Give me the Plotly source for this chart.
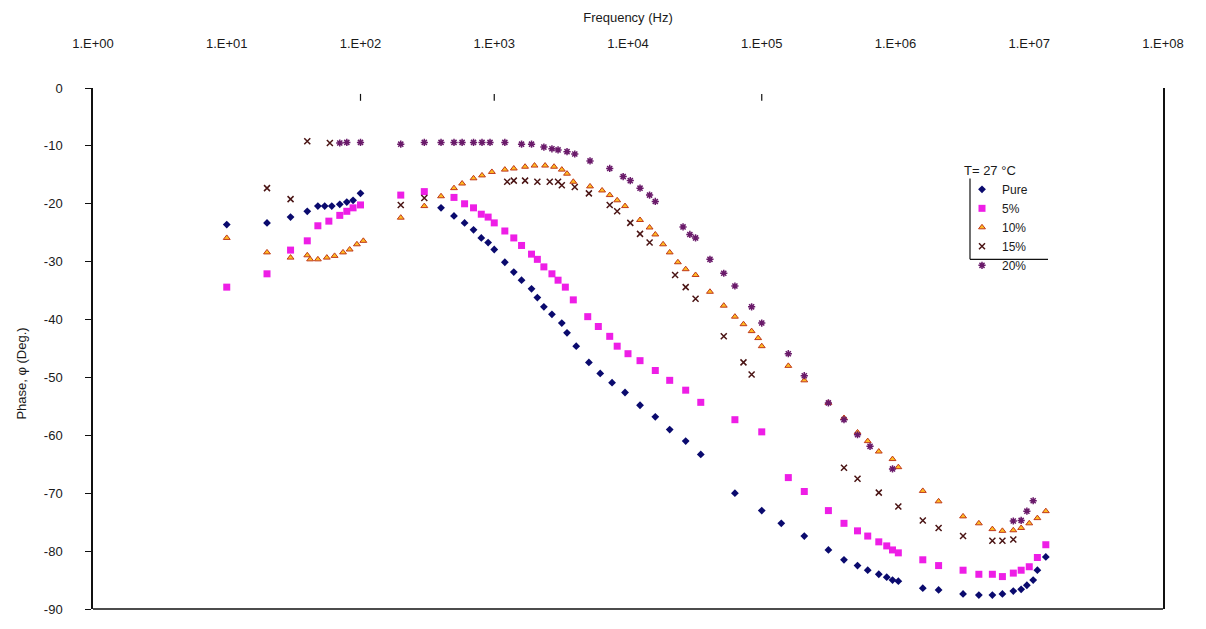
import plotly.graph_objects as go

# Phase vs frequency at T = 27 °C for five compositions
pure_f = [10, 20, 30, 40, 48, 54, 61, 70, 79, 88, 100,
          400, 500, 600, 700, 800, 900, 1000, 1200, 1400, 1600, 1900, 2100, 2350, 2700,
          3200, 3500, 4100, 5100, 6200, 7600, 9500, 12300, 16000, 20500, 27000, 35000,
          63000, 100000, 140000, 208000, 315000, 412000, 520000, 620000, 750000, 860000, 950000,
          1.05e6, 1.6e6, 2.1e6, 3.2e6, 4.2e6, 5.3e6, 6.3e6, 7.6e6, 8.7e6, 9.6e6, 1.07e7,
          1.15e7, 1.33e7]
pure_p = [-23.6, -23.3, -22.3, -21.3, -20.4, -20.4, -20.4, -20.1, -19.7, -19.4, -18.2,
          -20.7, -22.1, -23.3, -24.5, -25.9, -26.7, -27.9, -30.1, -31.8, -33.2, -34.7, -36.2,
          -37.8, -39.1, -40.6, -42.3, -44.6, -47.4, -49.3, -50.9, -52.6, -54.8, -56.8, -59.0,
          -61.0, -63.3, -70.0, -73.0, -75.2, -77.4, -79.8, -81.5, -82.5, -83.3, -84.0, -84.5,
          -85.0, -85.2, -86.4, -86.7, -87.4, -87.6, -87.6, -87.4, -86.9, -86.6, -85.9, -85.0,
          -83.3, -81.0]

p5_f = [10, 20, 30, 40, 48, 58, 70, 79, 88, 100, 200, 300, 500, 600, 700, 800, 900, 1000,
        1200, 1400, 1600, 1900, 2100, 2350, 2700, 3000, 3400, 3900, 5000, 6000, 7300, 8300,
        10000, 12300, 16000, 20500, 27000, 35000, 63000, 100000, 158000, 208000, 315000,
        412000, 520000, 620000, 750000, 860000, 950000, 1.05e6, 1.6e6, 2.1e6, 3.2e6, 4.2e6,
        5.3e6, 6.3e6, 7.6e6, 8.7e6, 1.0e7, 1.15e7, 1.33e7]
p5_p = [-34.4, -32.1, -28.0, -26.4, -23.8, -23.0, -22.0, -21.3, -20.7, -20.2, -18.5, -17.9,
        -18.9, -20.0, -20.7, -21.8, -22.3, -23.3, -24.7, -25.9, -27.2, -28.7, -29.6, -30.9,
        -32.1, -33.2, -34.4, -36.6, -39.5, -41.2, -42.9, -44.6, -45.9, -47.1, -48.8, -50.5,
        -52.2, -54.3, -57.3, -59.4, -67.3, -69.7, -73.0, -75.2, -76.5, -77.4, -78.4, -79.1,
        -79.8, -80.3, -81.5, -82.5, -83.3, -84.0, -84.0, -84.4, -83.8, -83.3, -82.7, -81.1,
        -78.9]

p10_f = [10, 20, 30, 40, 42, 48, 56, 64, 74, 83, 94, 105, 200, 300, 400, 500, 575, 700,
         810, 960, 1200, 1400, 1700, 2000, 2400, 2800, 3200, 3500, 3900, 5200, 6400, 7300,
         8300, 9500, 12300, 14500, 16000, 18300, 20500, 23600, 27000, 32000, 41000, 52000,
         63000, 73000, 84000, 94000, 100000, 158000, 208000, 315000, 412000, 520000, 620000,
         750000, 950000, 1.05e6, 1.6e6, 2.1e6, 3.2e6, 4.2e6, 5.3e6, 6.3e6, 7.6e6, 8.7e6,
         1.0e7, 1.15e7, 1.33e7]
p10_p = [-25.9, -28.4, -29.3, -28.9, -29.6, -29.6, -29.3, -29.0, -28.4, -27.9, -27.0, -26.4,
         -22.4, -20.4, -18.7, -17.3, -16.5, -15.6, -15.1, -14.5, -14.1, -13.9, -13.6, -13.4,
         -13.4, -13.6, -14.1, -14.8, -16.2, -17.0, -17.7, -18.5, -19.4, -20.4, -22.8, -24.1,
         -25.3, -27.0, -28.4, -30.1, -31.3, -32.3, -35.2, -37.6, -39.5, -40.8, -42.0, -43.2,
         -44.6, -48.0, -50.5, -54.4, -57.0, -59.5, -61.0, -62.8, -64.1, -65.5, -69.6, -71.4,
         -74.0, -75.2, -76.2, -76.5, -76.4, -76.0, -75.2, -74.3, -73.1]

p15_f = [20, 30, 40, 59, 200, 300, 1250, 1400, 1700, 2100, 2600, 3000, 3200, 4000, 5100,
         7300, 8300, 10400, 12300, 14500, 22500, 27000, 32000, 52000, 73000, 84000, 412000,
         520000, 750000, 1.05e6, 1.6e6, 2.1e6, 3.2e6, 5.3e6, 6.3e6, 7.6e6]
p15_p = [-17.3, -19.2, -9.2, -9.5, -20.2, -19.0, -16.2, -16.0, -16.0, -16.2, -16.2, -16.2,
         -16.8, -17.1, -18.2, -20.2, -21.3, -23.3, -25.2, -26.7, -32.3, -34.4, -36.4, -42.9,
         -47.4, -49.5, -65.6, -67.5, -69.9, -72.3, -74.7, -76.0, -77.4, -78.2, -78.2, -78.0]

p20_f = [70, 79, 100, 200, 300, 400, 500, 575, 700, 810, 930, 1200, 1600, 1900, 2350, 2700,
         3000, 3500, 4000, 5200, 7300, 9200, 10400, 12300, 14500, 16000, 25800, 29000, 32000,
         41000, 52000, 63000, 84000, 100000, 158000, 208000, 315000, 412000, 520000, 645000,
         950000, 7.6e6, 8.7e6, 9.6e6, 1.07e7]
p20_p = [-9.5, -9.4, -9.4, -9.7, -9.4, -9.4, -9.4, -9.4, -9.4, -9.4, -9.4, -9.4, -9.7, -9.7,
         -10.2, -10.5, -10.7, -11.0, -11.4, -12.6, -13.9, -15.3, -16.0, -17.3, -18.5, -19.6,
         -24.0, -25.3, -25.9, -29.6, -32.0, -34.2, -37.8, -40.6, -45.9, -49.7, -54.4, -57.3,
         -59.9, -61.9, -65.8, -74.8, -74.7, -73.1, -71.3]

x_ticks = [1, 10, 100, 1e3, 1e4, 1e5, 1e6, 1e7, 1e8]
x_tick_text = ["1.E+00", "1.E+01", "1.E+02", "1.E+03", "1.E+04",
               "1.E+05", "1.E+06", "1.E+07", "1.E+08"]
y_ticks = [0, -10, -20, -30, -40, -50, -60, -70, -80, -90]
y_tick_text = ["0", "-10", "-20", "-30", "-40", "-50", "-60", "-70", "-80", "-90"]

FONT = "Liberation Sans, Arial, sans-serif"
TXT = "#1a1a1a"
FS = 13

fig = go.Figure()
fig.add_trace(go.Scatter(x=pure_f, y=pure_p, mode="markers", name="Pure",
                         marker=dict(symbol="diamond", size=6, color="#0a0a6e")))
fig.add_trace(go.Scatter(x=p5_f, y=p5_p, mode="markers", name="5%",
                         marker=dict(symbol="square", size=7, color="#ee1ee6")))
fig.add_trace(go.Scatter(x=p10_f, y=p10_p, mode="markers", name="10%",
                         marker=dict(symbol="triangle-up", size=6, color="#ffbb22",
                                     line=dict(color="#c0391b", width=1))))
fig.add_trace(go.Scatter(x=p15_f, y=p15_p, mode="markers", name="15%",
                         marker=dict(symbol="x-thin-open", size=6, color="#4a1414",
                                     line=dict(color="#4a1414", width=1.5))))
fig.add_trace(go.Scatter(x=p20_f, y=p20_p, mode="markers", name="20%",
                         marker=dict(symbol="asterisk-open", size=6, color="#6a1a6a",
                                     line=dict(color="#6a1a6a", width=1.5))))

X0, X1, Y0, Y1 = 93, 1163, 88, 617
W, H = 1206, 629


def px(xp):
    return (xp - X0) / (X1 - X0)


def py(yp):
    return (Y1 - yp) / (Y1 - Y0)


shapes = [
    # bottom frame line
    dict(type="line", xref="paper", yref="paper", x0=0, x1=1, y0=0, y1=0,
         line=dict(color="#111", width=1.5)),
    # legend L-frame
    dict(type="line", xref="paper", yref="paper", x0=px(970), x1=px(970), y0=py(262), y1=py(180),
         line=dict(color="#111", width=1.2)),
    dict(type="line", xref="paper", yref="paper", x0=px(970), x1=px(1048), y0=py(262), y1=py(262),
         line=dict(color="#111", width=1.2)),
]
# short tick marks under the top axis
for dec in (2, 3, 5):
    shapes.append(dict(type="line", xref="paper", yref="paper", x0=dec / 8, x1=dec / 8,
                       y0=py(101), y1=py(94), line=dict(color="#111", width=1.2)))

fig.update_layout(
    width=W, height=H,
    margin=dict(l=X0, r=W - X1, t=Y0, b=H - Y1),
    paper_bgcolor="white", plot_bgcolor="white",
    font=dict(family=FONT, size=FS, color=TXT),
    shapes=shapes,
    showlegend=True,
    legend=dict(x=px(962), y=py(159), xanchor="left", yanchor="top",
                bgcolor="rgba(0,0,0,0)", borderwidth=0,
                font=dict(family=FONT, size=12, color=TXT),
                title=dict(text="T= 27 °C", font=dict(family=FONT, size=FS, color=TXT)),
                tracegroupgap=0),
    annotations=[dict(text="Phase, φ (Deg.)", xref="paper", yref="paper",
                      x=px(22), y=py(378), xanchor="center", yanchor="middle",
                      textangle=-90, showarrow=False,
                      font=dict(family=FONT, size=FS, color=TXT))],
)

fig.update_xaxes(type="log", side="top", range=[0, 8],
                 tickvals=x_ticks, ticktext=x_tick_text,
                 showgrid=False, zeroline=False, showline=False, ticks="",
                 ticklabelstandoff=36,
                 tickfont=dict(family=FONT, size=FS, color=TXT),
                 title=dict(text="Frequency (Hz)", standoff=10,
                            font=dict(family=FONT, size=FS, color=TXT)))
fig.update_yaxes(range=[-90, 0], tickvals=y_ticks, ticktext=y_tick_text,
                 showgrid=False, zeroline=False,
                 showline=True, linecolor="#111", linewidth=1.5, mirror=True,
                 ticks="outside", ticklen=6, tickcolor="#111", tickwidth=1.2,
                 ticklabelstandoff=20,
                 tickfont=dict(family=FONT, size=FS, color=TXT))

fig.write_html("out.html")
